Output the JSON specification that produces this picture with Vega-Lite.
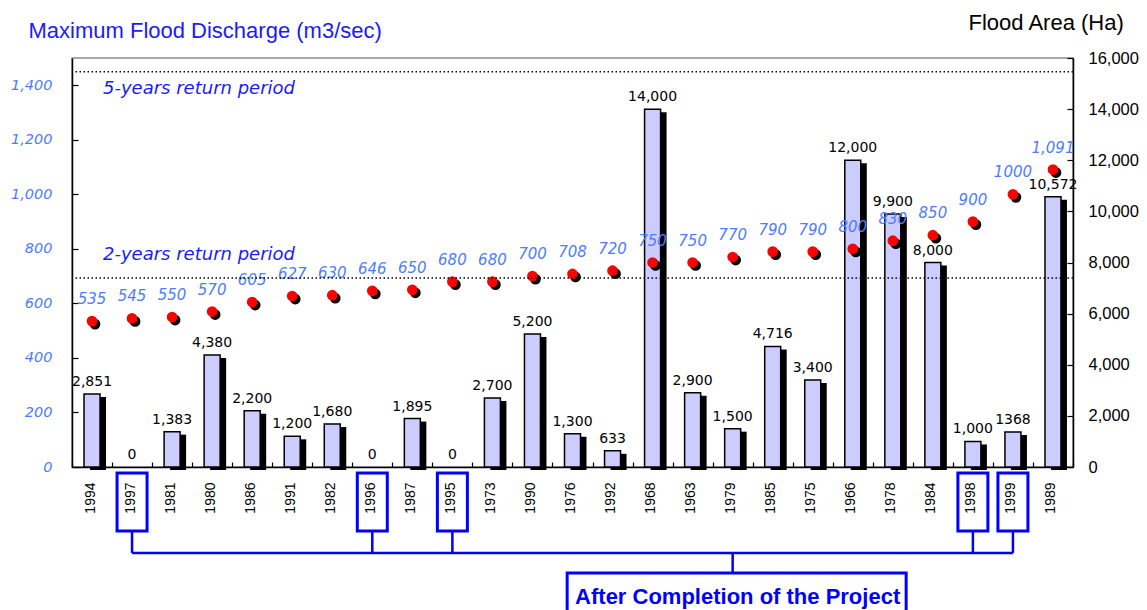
{
  "$schema": "https://vega.github.io/schema/vega-lite/v6.json",
  "width": 1001,
  "height": 409,
  "autosize": {"type": "none"},
  "padding": {"left": 72, "top": 58, "right": 74, "bottom": 143},
  "background": "white",
  "config": {
    "font": "Liberation Sans",
    "view": {"stroke": "#8c8c8c", "strokeWidth": 1.5},
    "axis": {"grid": false, "domainColor": "black", "domainWidth": 1.5, "tickColor": "black", "tickWidth": 1.2}
  },
  "data": {
    "values": [
      {"year": "1994", "area": 2851, "areaLabel": "2,851", "q": 535, "qLabel": "535", "after": false},
      {"year": "1997", "area": 0, "areaLabel": "0", "q": 545, "qLabel": "545", "after": true},
      {"year": "1981", "area": 1383, "areaLabel": "1,383", "q": 550, "qLabel": "550", "after": false},
      {"year": "1980", "area": 4380, "areaLabel": "4,380", "q": 570, "qLabel": "570", "after": false},
      {"year": "1986", "area": 2200, "areaLabel": "2,200", "q": 605, "qLabel": "605", "after": false},
      {"year": "1991", "area": 1200, "areaLabel": "1,200", "q": 627, "qLabel": "627", "after": false},
      {"year": "1982", "area": 1680, "areaLabel": "1,680", "q": 630, "qLabel": "630", "after": false},
      {"year": "1996", "area": 0, "areaLabel": "0", "q": 646, "qLabel": "646", "after": true},
      {"year": "1987", "area": 1895, "areaLabel": "1,895", "q": 650, "qLabel": "650", "after": false},
      {"year": "1995", "area": 0, "areaLabel": "0", "q": 680, "qLabel": "680", "after": true},
      {"year": "1973", "area": 2700, "areaLabel": "2,700", "q": 680, "qLabel": "680", "after": false},
      {"year": "1990", "area": 5200, "areaLabel": "5,200", "q": 700, "qLabel": "700", "after": false},
      {"year": "1976", "area": 1300, "areaLabel": "1,300", "q": 708, "qLabel": "708", "after": false},
      {"year": "1992", "area": 633, "areaLabel": "633", "q": 720, "qLabel": "720", "after": false},
      {"year": "1968", "area": 14000, "areaLabel": "14,000", "q": 750, "qLabel": "750", "after": false},
      {"year": "1963", "area": 2900, "areaLabel": "2,900", "q": 750, "qLabel": "750", "after": false},
      {"year": "1979", "area": 1500, "areaLabel": "1,500", "q": 770, "qLabel": "770", "after": false},
      {"year": "1985", "area": 4716, "areaLabel": "4,716", "q": 790, "qLabel": "790", "after": false},
      {"year": "1975", "area": 3400, "areaLabel": "3,400", "q": 790, "qLabel": "790", "after": false},
      {"year": "1966", "area": 12000, "areaLabel": "12,000", "q": 800, "qLabel": "800", "after": false},
      {"year": "1978", "area": 9900, "areaLabel": "9,900", "q": 830, "qLabel": "830", "after": false},
      {"year": "1984", "area": 8000, "areaLabel": "8,000", "q": 850, "qLabel": "850", "after": false},
      {"year": "1998", "area": 1000, "areaLabel": "1,000", "q": 900, "qLabel": "900", "after": true},
      {"year": "1999", "area": 1368, "areaLabel": "1368", "q": 1000, "qLabel": "1000", "after": true},
      {"year": "1989", "area": 10572, "areaLabel": "10,572", "q": 1091, "qLabel": "1,091", "after": false}
    ]
  },
  "encoding": {
    "x": {
      "field": "year", "type": "nominal",
      "sort": ["1994", "1997", "1981", "1980", "1986", "1991", "1982", "1996", "1987", "1995", "1973", "1990", "1976", "1992", "1968", "1963", "1979", "1985", "1975", "1966", "1978", "1984", "1998", "1999", "1989"],
      "scale": {"paddingInner": 0, "paddingOuter": 0},
      "axis": {
        "title": null, "labelAngle": -90, "labelAlign": "right", "labelBaseline": "middle",
        "labelFont": "Liberation Sans", "labelFontSize": 14, "labelColor": "black",
        "labelOffset": -2, "labelPadding": 20, "tickBand": "extent", "tickSize": -5
      }
    }
  },
  "layer": [
    {
      "encoding": {
        "y": {
          "field": "area", "type": "quantitative",
          "scale": {"domain": [0, 16000], "nice": false},
          "axis": {
            "orient": "right", "values": [0, 2000, 4000, 6000, 8000, 10000, 12000, 14000, 16000],
            "format": ",d", "labelColor": "black", "labelFont": "Liberation Sans", "labelFontSize": 16.5,
            "tickSize": -6, "labelPadding": 21,
            "title": "Flood Area (Ha)", "titleAngle": 0, "titleAlign": "left", "titleBaseline": "middle",
            "titleX": -105, "titleY": -36, "titleFontSize": 22, "titleFontWeight": "normal", "titleColor": "black", "titleFont": "Liberation Sans"
          }
        }
      },
      "layer": [
        {
          "transform": [{"filter": "datum.area > 0"}],
          "mark": {"type": "bar", "width": 16, "color": "black", "xOffset": 6, "yOffset": 3, "y2Offset": 0.01}
        },
        {
          "transform": [{"filter": "datum.area > 0"}],
          "mark": {"type": "bar", "width": 16, "fill": "#ccccff", "stroke": "black", "strokeWidth": 1.5}
        },
        {
          "mark": {"type": "text", "baseline": "alphabetic", "dy": -8, "font": "DejaVu Sans", "fontSize": 14, "color": "black"},
          "encoding": {"text": {"field": "areaLabel"}}
        }
      ]
    },
    {
      "layer": [
        {
          "mark": {"type": "point", "filled": true, "size": 115, "color": "black", "opacity": 1, "xOffset": 3, "yOffset": 3},
          "encoding": {
            "y": {
              "field": "q", "type": "quantitative",
              "scale": {"domain": [0, 1500], "nice": false},
              "axis": {
                "orient": "left", "values": [0, 200, 400, 600, 800, 1000, 1200, 1400],
                "format": ",d", "labelColor": "#4d7cff", "labelFont": "DejaVu Sans", "labelFontStyle": "italic", "labelFontSize": 14.5,
                "tickSize": -6, "labelPadding": 26,
                "title": "Maximum Flood Discharge (m3/sec)", "titleAngle": 0, "titleAlign": "left", "titleBaseline": "middle",
                "titleX": -44, "titleY": -28, "titleFontSize": 22, "titleFontWeight": "normal", "titleColor": "#1a1aff", "titleFont": "Liberation Sans"
              }
            }
          }
        },
        {
          "mark": {"type": "point", "filled": true, "size": 115, "color": "#ff0000", "opacity": 1},
          "encoding": {"y": {"field": "q", "type": "quantitative"}}
        },
        {
          "mark": {"type": "text", "baseline": "middle", "dy": -22, "font": "DejaVu Sans", "fontStyle": "italic", "fontSize": 15, "color": "#4d7cff"},
          "encoding": {"y": {"field": "q", "type": "quantitative"}, "text": {"field": "qLabel"}}
        },
        {
          "data": {"values": [{"period": "5-years", "q": 1450}, {"period": "2-years", "q": 693}]},
          "mark": {"type": "rule", "color": "black", "strokeWidth": 1.5, "strokeDash": [1.5, 2.5]},
          "encoding": {"x": null, "y": {"field": "q", "type": "quantitative"}}
        },
        {
          "data": {"values": [{"label": "5-years return period"}]},
          "mark": {"type": "text", "align": "left", "baseline": "middle", "dx": 11, "font": "DejaVu Sans", "fontStyle": "italic", "fontSize": 18, "color": "#1a1aff"},
          "encoding": {"x": {"datum": "1994"}, "y": {"datum": 1386}, "text": {"field": "label"}}
        },
        {
          "data": {"values": [{"label": "2-years return period"}]},
          "mark": {"type": "text", "align": "left", "baseline": "middle", "dx": 11, "font": "DejaVu Sans", "fontStyle": "italic", "fontSize": 18, "color": "#1a1aff"},
          "encoding": {"x": {"datum": "1994"}, "y": {"datum": 777}, "text": {"field": "label"}}
        },
        {
          "transform": [{"filter": "datum.after"}],
          "mark": {"type": "bar", "width": 30, "fill": "white", "fillOpacity": 0, "stroke": "#0000ff", "strokeWidth": 3},
          "encoding": {"y": {"datum": -22}, "y2": {"datum": -235}}
        },
        {
          "transform": [{"filter": "datum.after"}],
          "mark": {"type": "rule", "color": "#0000ff", "strokeWidth": 2.5},
          "encoding": {"y": {"datum": -235}, "y2": {"datum": -315}}
        },
        {
          "transform": [{"filter": "datum.after"}],
          "mark": {"type": "line", "color": "#0000ff", "strokeWidth": 2.5},
          "encoding": {"y": {"datum": -315}}
        },
        {
          "data": {"values": [{"label": "After Completion of the Project"}]},
          "mark": {"type": "rule", "color": "#0000ff", "strokeWidth": 2.5},
          "encoding": {"x": {"datum": "1979"}, "y": {"datum": -315}, "y2": {"datum": -389}}
        },
        {
          "data": {"values": [{"label": "After Completion of the Project"}]},
          "mark": {"type": "bar", "width": 339, "xOffset": 4, "fill": "white", "stroke": "#0000ff", "strokeWidth": 3},
          "encoding": {"x": {"datum": "1979"}, "y": {"datum": -389}, "y2": {"datum": -560}}
        },
        {
          "data": {"values": [{"label": "After Completion of the Project"}]},
          "mark": {"type": "text", "align": "center", "baseline": "alphabetic", "dx": 5, "font": "Liberation Sans", "fontWeight": "bold", "fontSize": 22, "color": "#0000ff"},
          "encoding": {"x": {"datum": "1979"}, "y": {"datum": -502}, "text": {"field": "label"}}
        }
      ]
    }
  ],
  "resolve": {"scale": {"y": "independent"}}
}
